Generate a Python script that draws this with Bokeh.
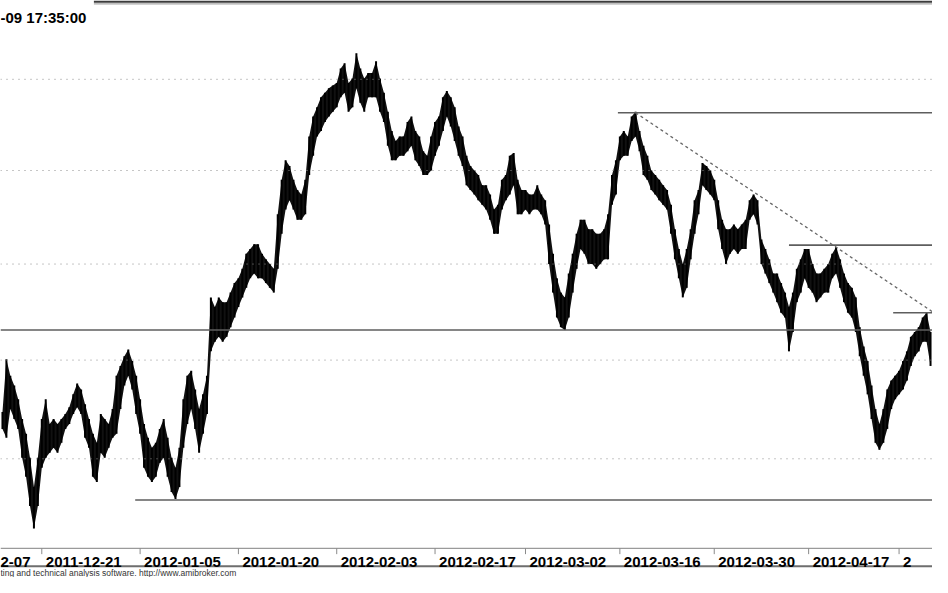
import math
from bokeh.plotting import figure
from bokeh.models import Range1d, Span, Grid
from bokeh.core.properties import value
from bokeh.embed import file_html
from bokeh.resources import INLINE

# ---------------- data ----------------
# one sample = a compressed group of intraday bars; high / low of each group
hi = [3.647, 3.701, 3.684, 3.674, 3.660, 3.640, 3.625, 3.601, 3.572, 3.601,
      3.640, 3.660, 3.635, 3.640, 3.635, 3.640, 3.645, 3.652, 3.665, 3.676,
      3.670, 3.655, 3.640, 3.625, 3.616, 3.645, 3.640, 3.635, 3.650, 3.684,
      3.694, 3.704, 3.711, 3.699, 3.684, 3.660, 3.635, 3.621, 3.611, 3.616,
      3.630, 3.640, 3.621, 3.601, 3.591, 3.611, 3.660, 3.684, 3.689, 3.670,
      3.650, 3.665, 3.684, 3.765, 3.755, 3.765, 3.760, 3.760, 3.770, 3.780,
      3.785, 3.795, 3.811, 3.816, 3.821, 3.821, 3.811, 3.805, 3.800, 3.795,
      3.853, 3.890, 3.911, 3.905, 3.890, 3.879, 3.874, 3.890, 3.937, 3.959,
      3.969, 3.980, 3.985, 3.990, 3.993, 3.996, 4.012, 4.018, 3.996, 4.001,
      4.029, 4.012, 4.001, 4.007, 4.007, 4.020, 4.001, 3.985, 3.964, 3.943,
      3.932, 3.937, 3.937, 3.953, 3.959, 3.943, 3.937, 3.921, 3.916, 3.937,
      3.953, 3.959, 3.980, 3.987, 3.980, 3.969, 3.948, 3.937, 3.916, 3.905,
      3.900, 3.895, 3.884, 3.884, 3.874, 3.858, 3.863, 3.890, 3.895, 3.916,
      3.919, 3.890, 3.879, 3.879, 3.874, 3.874, 3.884, 3.874, 3.868, 3.842,
      3.811, 3.785, 3.770, 3.765, 3.790, 3.811, 3.832, 3.847, 3.847, 3.837,
      3.837, 3.832, 3.832, 3.837, 3.853, 3.895, 3.911, 3.937, 3.943, 3.937,
      3.959, 3.964, 3.943, 3.927, 3.916, 3.900, 3.895, 3.890, 3.884, 3.879,
      3.863, 3.837, 3.816, 3.800, 3.816, 3.837, 3.868, 3.879, 3.908, 3.905,
      3.900, 3.890, 3.868, 3.847, 3.837, 3.837, 3.842, 3.837, 3.842, 3.847,
      3.868, 3.874, 3.868, 3.826, 3.816, 3.805, 3.790, 3.790, 3.780, 3.770,
      3.755, 3.770, 3.795, 3.805, 3.816, 3.816, 3.800, 3.790, 3.790, 3.795,
      3.800, 3.811, 3.818, 3.805, 3.790, 3.780, 3.775, 3.765, 3.734, 3.714,
      3.699, 3.674, 3.650, 3.635, 3.650, 3.670, 3.679, 3.684, 3.689, 3.699,
      3.709, 3.724, 3.729, 3.734, 3.744, 3.749, 3.729]
lo = [3.630, 3.621, 3.650, 3.640, 3.630, 3.601, 3.582, 3.553, 3.531, 3.553,
      3.591, 3.601, 3.606, 3.611, 3.606, 3.616, 3.630, 3.635, 3.645, 3.652,
      3.645, 3.621, 3.611, 3.582, 3.577, 3.606, 3.601, 3.611, 3.621, 3.625,
      3.650, 3.674, 3.684, 3.670, 3.645, 3.625, 3.591, 3.582, 3.577, 3.582,
      3.596, 3.601, 3.582, 3.567, 3.560, 3.572, 3.611, 3.635, 3.650, 3.630,
      3.606, 3.625, 3.645, 3.709, 3.719, 3.724, 3.719, 3.724, 3.734, 3.744,
      3.755, 3.765, 3.775, 3.785, 3.790, 3.785, 3.785, 3.780, 3.775, 3.770,
      3.795, 3.832, 3.858, 3.868, 3.858, 3.847, 3.847, 3.853, 3.895, 3.916,
      3.937, 3.943, 3.953, 3.959, 3.964, 3.969, 3.980, 3.985, 3.964, 3.969,
      3.990, 3.974, 3.964, 3.980, 3.980, 3.980, 3.964, 3.953, 3.927, 3.911,
      3.911, 3.916, 3.916, 3.921, 3.927, 3.911, 3.905, 3.895, 3.895, 3.900,
      3.916, 3.927, 3.943, 3.959, 3.948, 3.932, 3.916, 3.905, 3.884, 3.879,
      3.874, 3.868, 3.863, 3.858, 3.847, 3.832, 3.832, 3.858, 3.868, 3.874,
      3.884, 3.853, 3.853, 3.858, 3.853, 3.858, 3.858, 3.853, 3.842, 3.800,
      3.770, 3.744, 3.734, 3.731, 3.744, 3.770, 3.795, 3.816, 3.811, 3.800,
      3.800, 3.795, 3.800, 3.805, 3.805, 3.863, 3.874, 3.911, 3.916, 3.916,
      3.932, 3.937, 3.921, 3.895, 3.890, 3.879, 3.874, 3.868, 3.863, 3.858,
      3.832, 3.805, 3.785, 3.765, 3.775, 3.805, 3.832, 3.853, 3.884, 3.879,
      3.874, 3.868, 3.837, 3.816, 3.800, 3.811, 3.816, 3.811, 3.816, 3.816,
      3.847, 3.853, 3.842, 3.800, 3.790, 3.780, 3.770, 3.760, 3.749, 3.744,
      3.709, 3.729, 3.760, 3.770, 3.785, 3.775, 3.770, 3.760, 3.765, 3.770,
      3.770, 3.785, 3.790, 3.775, 3.760, 3.749, 3.744, 3.729, 3.704, 3.684,
      3.665, 3.640, 3.616, 3.609, 3.616, 3.630, 3.650, 3.660, 3.665, 3.670,
      3.679, 3.694, 3.704, 3.709, 3.719, 3.719, 3.694]

# x-axis ticks (bar index) and the date labels as visible in the picture
# (the first and last labels are cut by the picture's edges)
tick_bars = [-15, 10, 35, 60, 85, 110, 133, 157, 181, 205, 228]
tick_labels = ["2-07", "2011-12-21", "2012-01-05", "2012-01-20", "2012-02-03",
               "2012-02-17", "2012-03-02", "2012-03-16", "2012-03-30", "2012-04-17",
               "2"]

# horizontal grid levels
grid_levels = [3.6, 3.7, 3.8, 3.9, 4.0]

# drawn support / resistance lines: price level and first bar
level_prices = [3.963, 3.820, 3.749, 3.731, 3.559]
level_start = [156.5, 200, 226.5, -0.5, 33.75]

# dashed down-trend line (bar, price)
trend_bars = [161, 236.5]
trend_prices = [3.963, 3.750]

stamp_text = "-09 17:35:00"
footer_text = "ting and technical analysis software. http://www.amibroker.com"

# ---------------- layout helpers ----------------
N = len(hi)
X0, X1 = -0.5, N - 0.5


def py(ypx):
    """vertical page position (reference pixels) -> price on the log scale"""
    return 3.6 * math.exp((471 - ypx) / 3701.6)


p = figure(width=932, height=577, x_range=Range1d(X0, X1),
           y_range=Range1d(py(593), py(0)), y_axis_type="log",
           x_axis_location=None, y_axis_location=None,
           output_backend="svg", toolbar_location=None, min_border=0)
p.outline_line_color = None
p.background_fill_color = "white"
p.border_fill_color = "white"
for r in list(p.center):
    if isinstance(r, Grid):
        r.visible = False

# dotted grid
for g in grid_levels:
    p.add_layout(Span(location=g, dimension="width", line_color="#8c8c8c",
                      line_width=1, line_dash="1 5"))

# price bars
xs = list(range(N))
p.varea(x=xs, y1=lo, y2=hi, fill_color="#111111")
p.segment(x0=xs, x1=xs, y0=lo, y1=hi, line_color="black", line_width=2)

# support / resistance lines
p.segment(x0=level_start, x1=[X1] * len(level_prices), y0=level_prices, y1=level_prices,
          line_color="#5e5e5e", line_width=1.6)
p.line(x=trend_bars, y=trend_prices, line_color="#666666", line_width=1.3,
       line_dash="3 3")

# top frame
p.segment(x0=[23.25], x1=[X1], y0=[py(1.2)], y1=[py(1.2)], line_color="#3c3c3c", line_width=2.2)
p.segment(x0=[23.25], x1=[X1], y0=[py(3.4)], y1=[py(3.4)], line_color="#a8a8a8", line_width=1.2)

# date axis band
p.segment(x0=[X0], x1=[X1], y0=[py(563)], y1=[py(563)], line_color="#9a9a9a", line_width=1.2)
p.segment(x0=[X0], x1=[X1], y0=[py(581.5)], y1=[py(581.5)], line_color="#6e6e6e", line_width=2)
p.segment(x0=tick_bars, x1=tick_bars, y0=[py(563)] * len(tick_bars),
          y1=[py(569)] * len(tick_bars), line_color="#8a8a8a", line_width=1)
label_x = [max(t, X0) for t in tick_bars]
label_off = [4 if t > X0 else 0 for t in tick_bars]
p.text(x=label_x, y=[py(577.5)] * len(tick_bars), text=tick_labels, x_offset=label_off,
       text_font=value("Liberation Sans"), text_font_style="bold",
       text_font_size="15px", text_color="black",
       text_align="left", text_baseline="alphabetic")

# time stamp and footer
p.text(x=[X0], y=[py(17)], text=[stamp_text], x_offset=0,
       text_font=value("Liberation Sans"), text_font_style="bold",
       text_font_size="15px", text_color="black",
       text_align="left", text_baseline="alphabetic")
p.text(x=[X0], y=[py(588.5)], text=[footer_text], x_offset=0,
       text_font=value("Liberation Sans"), text_font_size="8.5px", text_color="#333333",
       text_align="left", text_baseline="alphabetic")

open("out.html", "w").write(file_html(p, INLINE))
